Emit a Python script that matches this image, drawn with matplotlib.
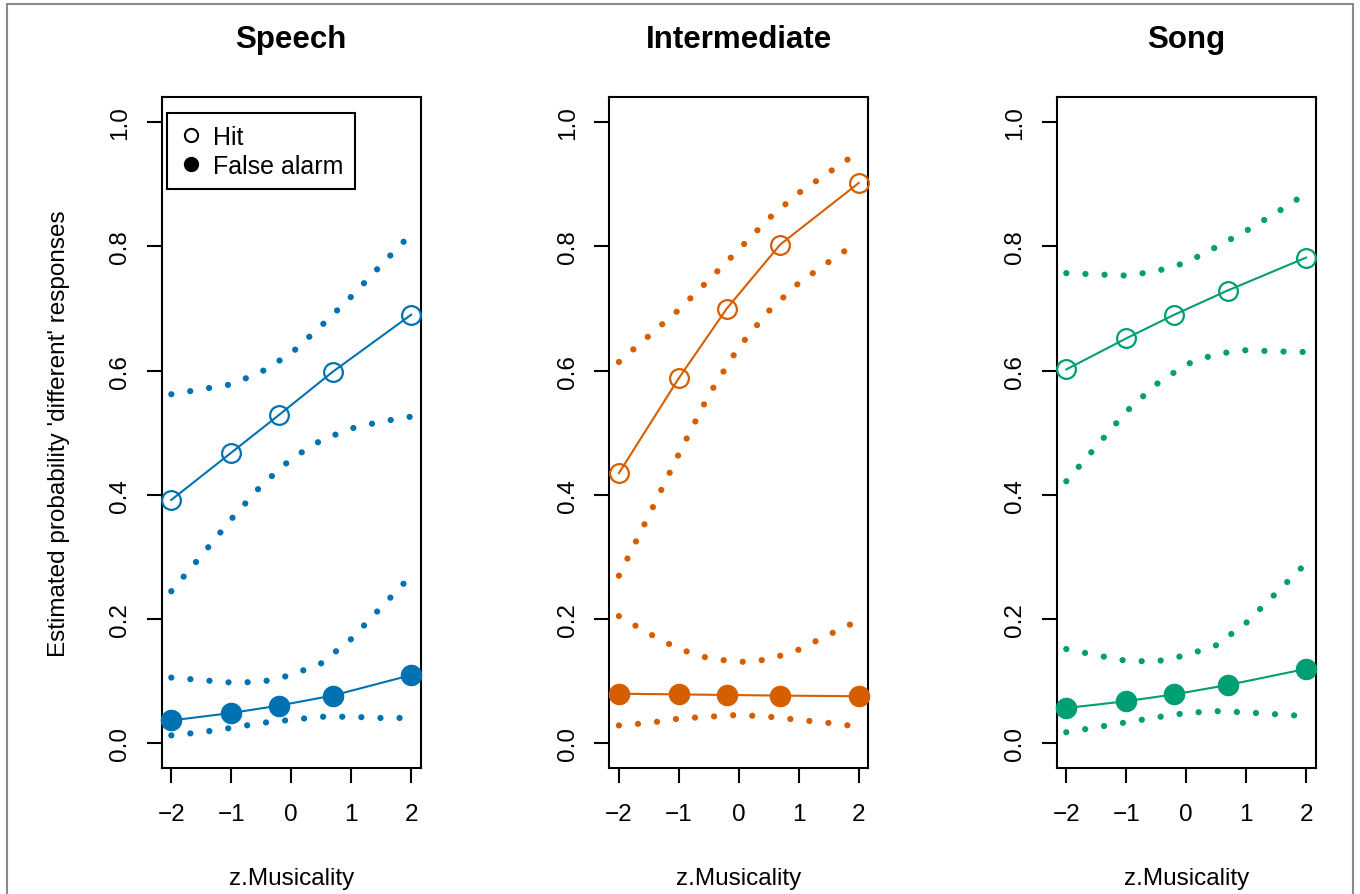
import matplotlib
matplotlib.use('Agg')
import matplotlib.pyplot as plt
from matplotlib.lines import Line2D
from matplotlib.patches import Rectangle

plt.rcParams['font.family'] = ['Liberation Sans', 'DejaVu Sans']

# ---------------- data ----------------
panel_titles = ['Speech', 'Intermediate', 'Song']
panel_colors = ['#0072B2', '#D55E00', '#009E73']

x_points = [-2.0, -1.0, -0.2, 0.69, 2.0]
x_grid = [-2.0, -1.5, -1.0, -0.5, 0.0, 0.5, 1.0, 1.5, 2.0]
x_ticks = [-2, -1, 0, 1, 2]
y_ticks = [0.0, 0.2, 0.4, 0.6, 0.8, 1.0]
y_tick_labels = ['0.0', '0.2', '0.4', '0.6', '0.8', '1.0']

# Speech
speech_hit = [0.392, 0.468, 0.529, 0.598, 0.690]
speech_fa = [0.037, 0.049, 0.061, 0.077, 0.110]
speech_hit_hi = [0.562, 0.570, 0.578, 0.598, 0.628, 0.672, 0.719, 0.770, 0.820]
speech_hit_lo = [0.245, 0.302, 0.361, 0.415, 0.458, 0.488, 0.507, 0.518, 0.526]
speech_fa_hi = [0.106, 0.102, 0.098, 0.099, 0.110, 0.129, 0.168, 0.219, 0.270]
speech_fa_lo = [0.013, 0.018, 0.025, 0.033, 0.038, 0.043, 0.043, 0.041, 0.041]

# Intermediate
inter_hit = [0.435, 0.588, 0.700, 0.803, 0.902]
inter_fa = [0.080, 0.079, 0.078, 0.077, 0.076]
inter_hit_hi = [0.614, 0.656, 0.698, 0.746, 0.795, 0.845, 0.886, 0.919, 0.952]
inter_hit_lo = [0.270, 0.367, 0.466, 0.561, 0.638, 0.696, 0.741, 0.775, 0.808]
inter_fa_hi = [0.205, 0.177, 0.152, 0.137, 0.131, 0.135, 0.151, 0.175, 0.198]
inter_fa_lo = [0.029, 0.033, 0.040, 0.043, 0.046, 0.043, 0.038, 0.033, 0.027]

# Song
song_hit = [0.602, 0.652, 0.690, 0.729, 0.782]
song_fa = [0.057, 0.068, 0.079, 0.094, 0.120]
song_hit_hi = [0.757, 0.755, 0.753, 0.760, 0.774, 0.799, 0.825, 0.854, 0.885]
song_hit_lo = [0.422, 0.478, 0.534, 0.578, 0.610, 0.627, 0.633, 0.631, 0.630]
song_fa_hi = [0.152, 0.142, 0.133, 0.132, 0.142, 0.158, 0.194, 0.242, 0.290]
song_fa_lo = [0.018, 0.026, 0.034, 0.042, 0.049, 0.052, 0.050, 0.047, 0.044]

panels = [
    (speech_hit, speech_fa, speech_hit_hi, speech_hit_lo, speech_fa_hi, speech_fa_lo),
    (inter_hit, inter_fa, inter_hit_hi, inter_hit_lo, inter_fa_hi, inter_fa_lo),
    (song_hit, song_fa, song_hit_hi, song_hit_lo, song_fa_hi, song_fa_lo),
]

# ---------------- figure ----------------
W, H = 1360, 895
fig = plt.figure(figsize=(W / 100, H / 100), dpi=100)
fig.patch.set_facecolor('white')

# gray outer frame
fig.patches.append(Rectangle((7 / W, -0.05), (1353 - 7) / W, (H - 5) / H + 0.05,
                             transform=fig.transFigure, fill=False,
                             edgecolor='#8a8a8a', linewidth=1.5, zorder=0))

lefts = [161.7, 609.3, 1056.7]
ax_w = 259.0
ax_top, ax_bot = 98.3, 769.3

FS = 17.5
dot_style = (0, (0.01, 3.05))

for i, (title, col, data) in enumerate(zip(panel_titles, panel_colors, panels)):
    hit, fa, hit_hi, hit_lo, fa_hi, fa_lo = data
    ax = fig.add_axes([lefts[i] / W, (H - ax_bot) / H, ax_w / W, (ax_bot - ax_top) / H])
    ax.set_xlim(-2.16, 2.16)
    ax.set_ylim(-0.04, 1.04)

    for band in (hit_hi, hit_lo, fa_hi, fa_lo):
        ax.plot(x_grid, band, color=col, linewidth=4.5, linestyle=dot_style,
                dash_capstyle='round', solid_capstyle='round', zorder=2)

    ax.plot(x_points, hit, color=col, linewidth=1.5, marker='o', markersize=13.5,
            markerfacecolor='none', markeredgecolor=col, markeredgewidth=1.6,
            zorder=3, clip_on=False)
    ax.plot(x_points, fa, color=col, linewidth=1.5, marker='o', markersize=14.5,
            markerfacecolor=col, markeredgecolor=col, zorder=3, clip_on=False)

    ax.set_xticks(x_ticks)
    ax.set_xticklabels(['\u22122', '\u22121', '0', '1', '2'])
    ax.set_yticks(y_ticks)
    ax.set_yticklabels(y_tick_labels, rotation=90, va='center')
    ax.tick_params(axis='both', direction='out', length=10.8, width=1.5,
                   labelsize=FS, color='black')
    ax.tick_params(axis='y', pad=11)
    ax.tick_params(axis='x', pad=14)
    for s in ax.spines.values():
        s.set_linewidth(1.5)
        s.set_color('black')

    ax.text(0.5, 1.075, title, transform=ax.transAxes, ha='center', va='baseline',
            fontsize=22.5, fontweight='bold')
    ax.text(0.5, -0.1724, 'z.Musicality', transform=ax.transAxes, ha='center',
            va='baseline', fontsize=FS)

    if i == 0:
        handles = [
            Line2D([], [], linestyle='none', marker='o', markersize=9.5,
                   markerfacecolor='none', markeredgecolor='black', markeredgewidth=1.5),
            Line2D([], [], linestyle='none', marker='o', markersize=10,
                   markerfacecolor='black', markeredgecolor='black'),
        ]
        leg = ax.legend(handles, ['Hit', 'False alarm'], loc='upper left',
                        bbox_to_anchor=(0.02, 0.976), borderaxespad=0,
                        frameon=True, fancybox=False, edgecolor='black',
                        fontsize=18, handlelength=1.0, handletextpad=0.4,
                        borderpad=0.45, labelspacing=0.2)
        leg.get_frame().set_linewidth(1.5)
        leg.get_frame().set_alpha(None)

fig.text(59 / W, (H - 434) / H, "Estimated probability 'different' responses",
         rotation=90, ha='center', va='center', fontsize=FS)

fig.savefig('out.png', dpi=100, facecolor='white')
